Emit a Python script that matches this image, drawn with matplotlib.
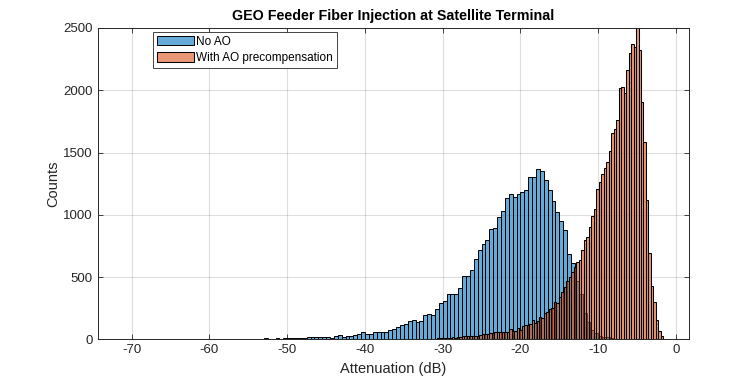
import numpy as np
import matplotlib
matplotlib.use("Agg")
import matplotlib.pyplot as plt

plt.rcParams['font.family'] = ['Liberation Sans', 'DejaVu Sans']

title = "GEO Feeder Fiber Injection at Satellite Terminal"
xlabel = "Attenuation (dB)"
ylabel = "Counts"
labels = ["No AO", "With AO precompensation"]

# Histogram bin specification (left edge of first bin, bin width)
blue_start, blue_width = -72.0, 0.5
orange_start, orange_width = -35.54, 0.32

# "No AO" counts per 0.5 dB bin, from -72 dB upward
blue_counts = [
    0, 0, 5, 0, 0,
    0, 0, 0, 0, 0, 0, 0, 0, 0, 0, 0, 0, 0, 0, 0, 0, 0,
    6, 0, 0, 0, 4, 0, 4, 0, 0, 0, 4, 0, 0,
    5, 6, 5, 7, 6, 6, 7, 6, 8, 7, 7, 8, 7, 8,
    15, 16, 15, 16, 15, 15, 10, 25, 34, 15, 28, 28, 34, 42, 55, 40, 40,
    58, 57, 59, 58, 71, 84, 98, 117, 121, 146, 154, 138, 149, 196, 204, 193, 242, 290,
    310, 365, 365, 365, 415, 505, 510, 553, 642, 714, 762, 797, 882, 890, 981, 1029,
    1136, 1168, 1144, 1163, 1181, 1203, 1305, 1305, 1369, 1350, 1283, 1203, 1109, 1021,
    954, 874, 682, 615, 470, 360, 214, 140, 75, 50, 30, 22, 15, 10, 6, 4, 2,
]

# "With AO precompensation" counts per 0.32 dB bin, from -35.54 dB upward
orange_counts = [
    0, 1, 0, 2, 0, 1, 3, 0, 2, 4, 1, 3, 5, 2, 6,
    10, 12, 8, 14, 11, 13, 15, 12,
    20, 22, 25, 24, 27, 23, 26, 28, 30,
    38, 42, 44, 42, 48, 50,
    56, 58, 55, 60, 58, 62,
    84, 70, 66, 92, 72, 108, 111, 118, 125, 156, 134, 150, 183, 174, 210, 218,
    245, 250, 300, 290, 343, 383, 420, 470, 500, 540, 580, 620,
    640, 720, 800, 820, 905, 990, 1050, 1210, 1260, 1330, 1375, 1420, 1510, 1660,
    1690, 1760, 2020, 2030, 1980, 2160, 2300, 2370, 2350,
    2650, 2327, 1906, 1586, 1118, 690, 430, 302, 156, 66, 25,
]

xticks = [-70, -60, -50, -40, -30, -20, -10, 0]
yticks = [0, 500, 1000, 1500, 2000, 2500]

W, H = 756, 380
fig = plt.figure(figsize=(W / 100, H / 100), dpi=100)
ax = fig.add_axes([97.7 / W, 1 - 339.3 / H, (689.3 - 97.7) / W, (339.3 - 28.0) / H])

blue_face = (0.0, 0.447, 0.741, 0.6)
orange_face = (0.85, 0.325, 0.098, 0.6)

b_edges = blue_start + blue_width * np.arange(len(blue_counts))
o_edges = orange_start + orange_width * np.arange(len(orange_counts))

ax.bar(b_edges, blue_counts, width=blue_width, align='edge',
       facecolor=blue_face, edgecolor='black', linewidth=0.7, label=labels[0], zorder=2)
ax.bar(o_edges, orange_counts, width=orange_width, align='edge',
       facecolor=orange_face, edgecolor='black', linewidth=0.75, label=labels[1], zorder=3)

ax.set_xlim(-74.37, 1.71)
ax.set_ylim(0, 2500)
ax.set_xticks(xticks)
ax.set_yticks(yticks)
ax.set_xticklabels([str(t) for t in xticks])
ax.set_yticklabels([str(t) for t in yticks])

dark = (0.15, 0.15, 0.15)
ax.grid(True, color=(0.15, 0.15, 0.15), alpha=0.15, linewidth=0.8, zorder=0)
ax.set_axisbelow(True)
ax.tick_params(direction='in', length=3.6, width=0.6, colors=dark, labelsize=9.5,
               top=True, right=True, labelcolor=dark)
for s in ax.spines.values():
    s.set_color(dark)
    s.set_linewidth(0.7)
    s.set_zorder(5)

ax.set_title(title, fontsize=10.3, fontweight='bold', color='black', pad=6)
ax.set_xlabel(xlabel, fontsize=10.5, color=dark, labelpad=4)
ax.set_ylabel(ylabel, fontsize=10.5, color=dark, labelpad=2)

leg = ax.legend(loc='upper left', bbox_to_anchor=(0.094, 0.988), borderaxespad=0,
                fontsize=8.5, handlelength=3.1, handleheight=0.85, handletextpad=0.2,
                labelspacing=0.35, borderpad=0.35, fancybox=False, framealpha=1,
                edgecolor=dark)
leg.get_frame().set_linewidth(0.6)

fig.savefig("out.png", dpi=100)
